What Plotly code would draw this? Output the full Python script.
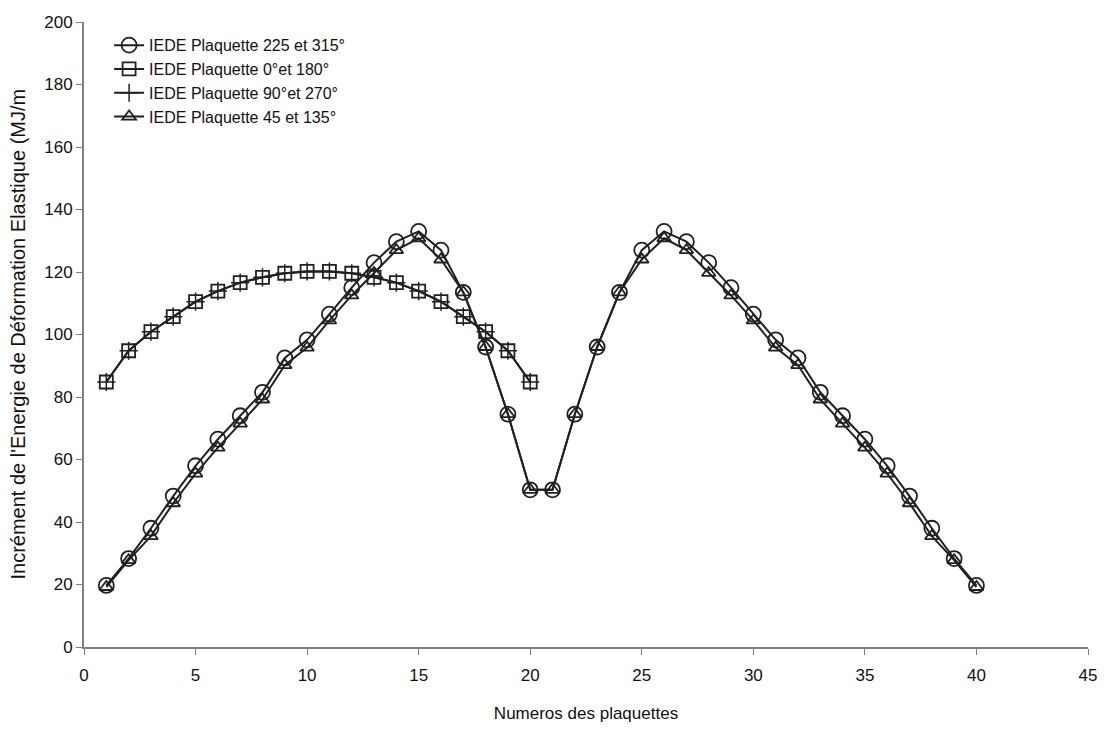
import plotly.graph_objects as go

# plaquette numbers
x_all = list(range(1, 41))
x_half = list(range(1, 21))

# IEDE values (MJ/m)
iede_225_315 = [19.7, 28.3, 38.0, 48.3, 58.0, 66.5, 74.0, 81.5, 92.5, 98.3,
                106.5, 115.0, 123.0, 129.7, 133.0, 127.0, 113.5, 96.0, 74.5, 50.3,
                50.3, 74.5, 96.0, 113.5, 127.0, 133.0, 129.7, 123.0, 115.0, 106.5,
                98.3, 92.5, 81.5, 74.0, 66.5, 58.0, 48.3, 38.0, 28.3, 19.7]
iede_0_180 = [84.8, 94.8, 100.9, 105.7, 110.5, 113.9, 116.6, 118.3, 119.6, 120.2,
              120.2, 119.6, 118.3, 116.6, 113.9, 110.5, 105.7, 100.9, 94.8, 84.8]
iede_90_270 = [84.8, 94.8, 100.9, 105.7, 110.5, 113.9, 116.6, 118.3, 119.6, 120.2,
               120.2, 119.6, 118.3, 116.6, 113.9, 110.5, 105.7, 100.9, 94.8, 84.8]
iede_45_135 = [19.2, 27.8, 35.5, 46.0, 55.5, 63.8, 71.5, 79.2, 90.2, 95.8,
               104.5, 112.5, 119.7, 127.0, 130.8, 124.0, 113.5, 96.0, 74.5, 50.3,
               50.3, 74.5, 96.0, 113.5, 124.0, 130.8, 127.0, 119.7, 112.5, 104.5,
               95.8, 90.2, 79.2, 71.5, 63.8, 55.5, 46.0, 35.5, 27.8, 19.2]

ink = "#231f20"
axis_grey = "#808080"
txt = "#111111"
fnt = "Liberation Sans, Arial"

fig = go.Figure()
fig.add_trace(go.Scatter(x=x_all, y=iede_225_315, mode='lines+markers',
                         name='IEDE Plaquette 225 et 315°',
                         line=dict(color=ink, width=2),
                         marker=dict(symbol='circle-open', size=15, color=ink,
                                     line=dict(width=1.8, color=ink))))
fig.add_trace(go.Scatter(x=x_half, y=iede_0_180, mode='lines+markers',
                         name='IEDE Plaquette 0°et 180°',
                         line=dict(color=ink, width=2),
                         marker=dict(symbol='square-open', size=13, color=ink,
                                     line=dict(width=1.8, color=ink))))
fig.add_trace(go.Scatter(x=x_half, y=iede_90_270, mode='lines+markers',
                         name='IEDE Plaquette 90°et 270°',
                         line=dict(color=ink, width=2),
                         marker=dict(symbol='cross-thin-open', size=13, color=ink,
                                     line=dict(width=1.5, color=ink))))
fig.add_trace(go.Scatter(x=x_all, y=iede_45_135, mode='lines+markers',
                         name='IEDE Plaquette 45 et 135°',
                         line=dict(color=ink, width=2),
                         marker=dict(symbol='triangle-up-open', size=12, color=ink,
                                     line=dict(width=1.8, color=ink))))

fig.update_xaxes(range=[0, 45], dtick=5, tick0=0, automargin=False,
                 showline=True, linecolor=axis_grey, linewidth=2,
                 ticks='outside', ticklen=6, tickcolor=axis_grey, tickwidth=1,
                 showgrid=False, zeroline=False, ticklabelstandoff=6,
                 tickfont=dict(family=fnt, size=17, color=txt),
                 title=dict(text="Numeros des plaquettes", standoff=30,
                            font=dict(family=fnt, size=17, color=txt)))
fig.update_yaxes(range=[0, 200], dtick=20, tick0=0, automargin=False,
                 showline=True, linecolor=axis_grey, linewidth=2,
                 ticks='outside', ticklen=6, tickcolor=axis_grey, tickwidth=1,
                 showgrid=False, zeroline=False,
                 tickfont=dict(family=fnt, size=17, color=txt))

# y title as annotation so it can sit close to the page edge
fig.add_annotation(text="Incrément de l'Energie de Déformation Elastique (MJ/m",
                   xref='paper', yref='paper', x=-0.0667, y=0.5,
                   xanchor='center', yanchor='middle', textangle=-90,
                   showarrow=False, font=dict(family=fnt, size=20, color=txt))

# the page adds an 8px body margin, so the figure is shrunk by that amount
fig.update_layout(
    width=1090, height=715,
    margin=dict(l=76, r=10, t=14, b=76),
    plot_bgcolor='white', paper_bgcolor='white',
    font=dict(family=fnt, size=16, color=txt),
    legend=dict(x=0.025, y=0.99, xanchor='left', yanchor='top',
                bgcolor='rgba(0,0,0,0)', tracegroupgap=0,
                font=dict(family=fnt, size=16, color=txt)),
    showlegend=True,
)

fig.write_html("out.html")
